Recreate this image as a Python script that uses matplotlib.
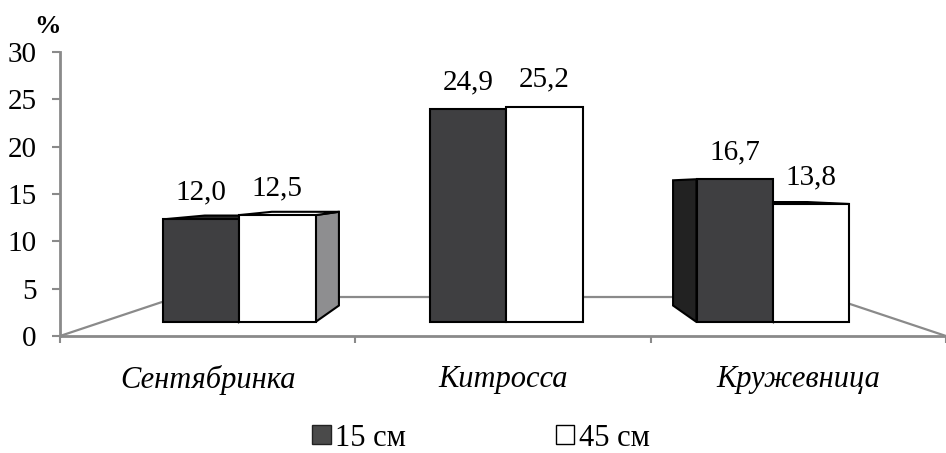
import matplotlib
matplotlib.use("Agg")
import matplotlib.pyplot as plt
from matplotlib.patches import Polygon, Patch

plt.rcParams['font.family'] = ['Liberation Serif', 'DejaVu Serif']

categories = ["Сентябринка", "Китросса", "Кружевница"]
series_names = ["15 см", "45 см"]
values_15 = [12.0, 24.9, 16.7]
values_45 = [12.5, 25.2, 13.8]
value_labels_15 = ["12,0", "24,9", "16,7"]
value_labels_45 = ["12,5", "25,2", "13,8"]
yticks = [0, 5, 10, 15, 20, 25, 30]

W, H = 946, 453
fig = plt.figure(figsize=(W / 100, H / 100), dpi=100)

GRAY = "#8a8a8a"
DARK = "#3f3f41"
FS = 21

# ---- value axis (ticks, floor) ----
ax = fig.add_axes([60 / W, (H - 336) / H, 886 / W, 284 / H])
ax.set_xlim(-0.5, 2.5)
ax.set_ylim(0, 30)
ax.patch.set_alpha(0)
for s in ("top", "right"):
    ax.spines[s].set_visible(False)
for s in ("left", "bottom"):
    ax.spines[s].set_color(GRAY)
    ax.spines[s].set_linewidth(2)
ax.set_yticks(yticks)
ax.set_yticklabels([str(t) for t in yticks])
ax.tick_params(axis="y", length=6, width=1.5, color=GRAY, labelsize=FS, pad=11)
ax.set_xticks([-0.5, 0.5, 1.5, 2.5])
ax.set_xticklabels([])
ax.tick_params(axis="x", which="major", length=5, width=1.5, color=GRAY)
ax.set_xticks(range(len(categories)), minor=True)
ax.set_xticklabels(categories, minor=True, fontsize=FS + 1, fontstyle="italic")
ax.tick_params(axis="x", which="minor", length=0, pad=21)

# floor (perspective towards a vanishing point)
vpx, vpy, fdepth = 1.0, 15.6, 0.736
bx0 = vpx + (-0.5 - vpx) * fdepth
bx1 = vpx + (2.5 - vpx) * fdepth
by = vpy * (1 - fdepth)
ax.plot([-0.5, bx0, bx1, 2.5], [0, by, by, 0], color=GRAY, lw=1.6, clip_on=False, zorder=1)

ax.text(-0.5 - 12 / 295.3, 31.5, "%", fontsize=19, fontweight="bold", ha="center", va="bottom")

# ---- bar axis (front faces in perspective space) ----
px_per_cat = 267.0
px_per_val = 8.55
x0_px, y0_px = 239.0, 322.0
ax2 = fig.add_axes([0, 0, 1, 1])
ax2.set_xlim(-x0_px / px_per_cat, (W - x0_px) / px_per_cat)
ax2.set_ylim(-(H - y0_px) / px_per_val, y0_px / px_per_val)
ax2.axis("off")
ax2.patch.set_alpha(0)

bw = 76.5 / px_per_cat
bvx, bvy, bdepth = 1.0, 15.67, 0.877

def back(x, y):
    return bvx + (x - bvx) * bdepth, bvy + (y - bvy) * bdepth

def draw_3d(xc, v, side, top):
    x0, x1 = xc - bw / 2, xc + bw / 2
    polys = []
    if x1 < bvx - 1e-9:
        polys.append(([(x1, 0), (x1, v), back(x1, v), back(x1, 0)], side))
    if x0 > bvx + 1e-9:
        polys.append(([(x0, 0), (x0, v), back(x0, v), back(x0, 0)], side))
    if v < bvy:
        polys.append(([(x0, v), (x1, v), back(x1, v), back(x0, v)], top))
    for pts, c in polys:
        ax2.add_patch(Polygon(pts, closed=True, facecolor=c, edgecolor="black", lw=1.5, zorder=2))

xs = list(range(len(categories)))
for i in xs:
    draw_3d(i - bw / 2, values_15[i], "#222222", "#2a2a2a")
    draw_3d(i + bw / 2, values_45[i], "#8e8e90", "white")

ax2.bar([i - bw / 2 for i in xs], values_15, width=bw, color=DARK, edgecolor="black",
        lw=1.5, zorder=3, label=series_names[0])
ax2.bar([i + bw / 2 for i in xs], values_45, width=bw, color="white", edgecolor="black",
        lw=1.5, zorder=3, label=series_names[1])

off = 27 * 72 / 100
for i in xs:
    ax2.annotate(value_labels_15[i], (i - bw / 2, values_15[i]), xytext=(0, off),
                 textcoords="offset points", ha="center", va="center", fontsize=FS)
    ax2.annotate(value_labels_45[i], (i + bw / 2, values_45[i]), xytext=(0, off),
                 textcoords="offset points", ha="center", va="center", fontsize=FS)

h1 = Patch(facecolor="#4a4a4a", edgecolor="#222222", lw=1.0)
h2 = Patch(facecolor="white", edgecolor="black", lw=1.0)
fig.legend([h1, h2], series_names, loc="center", bbox_to_anchor=(481 / W, 1 - 438 / H),
           ncol=2, frameon=False, fontsize=FS + 1, handlelength=0.6, handleheight=0.6,
           handletextpad=0.15, columnspacing=4.9, borderpad=0, borderaxespad=0)

fig.savefig("out.png", dpi=100)
